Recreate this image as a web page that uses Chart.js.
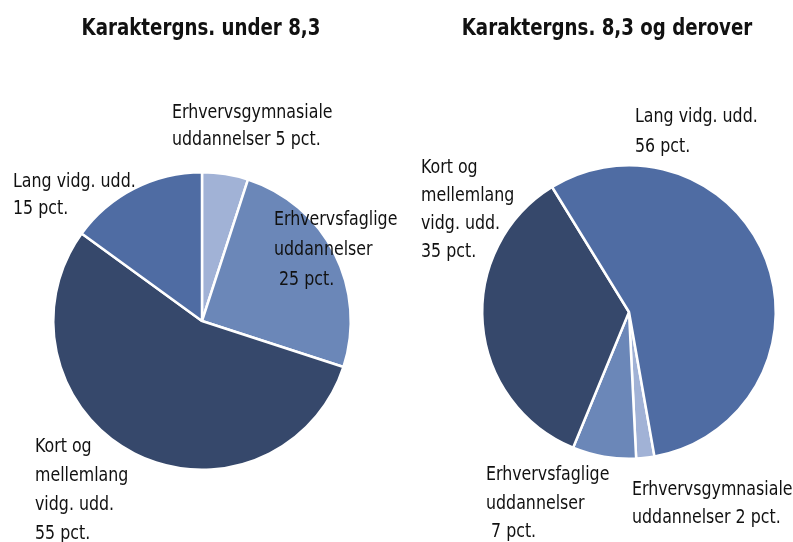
<!DOCTYPE html>
<html>
<head>
<meta charset="utf-8">
<script src="https://cdn.jsdelivr.net/npm/chart.js@4.4.0/dist/chart.umd.min.js"></script>
<style>
  html, body { margin: 0; padding: 0; background: #fff; }
  #wrap { position: relative; width: 793px; height: 542px; }
  #wrap canvas { position: absolute; left: 0; top: 0; }
</style>
</head>
<body>
<div id="wrap">
  <canvas id="pieUnder" width="793" height="542"></canvas>
  <canvas id="pieOver" width="793" height="542"></canvas>
</div>
<script>
// data
const categories = ['Erhvervsgymnasiale uddannelser', 'Erhvervsfaglige uddannelser', 'Kort og mellemlang vidg. udd.', 'Lang vidg. udd.'];
const underValues = [5, 25, 55, 15];
const overValues = [2, 7, 35, 56];
const sliceColors = ['#a1b2d6', '#6b87b8', '#36486b', '#4f6ca3'];

const FONT = "'DejaVu Sans Condensed', 'DejaVu Sans', sans-serif";
const SQUEEZE = 0.88; // narrow the glyphs a bit, the original font is condensed

// label text + where it sits (page px, left aligned, first baseline)
const underLabels = [
    { lines: ['Erhvervsgymnasiale', 'uddannelser 5 pct.'], x: 172, y: 118, lh: 27 },
    { lines: ['Erhvervsfaglige', 'uddannelser', ' 25 pct.'], x: 274, y: 225, lh: 30 },
    { lines: ['Kort og', 'mellemlang', 'vidg. udd.', '55 pct.'], x: 35, y: 452, lh: 29 },
    { lines: ['Lang vidg. udd.', '15 pct.'], x: 13, y: 187, lh: 27 }
];
const overLabels = [
    { lines: ['Erhvervsgymnasiale', 'uddannelser 2 pct.'], x: 632, y: 495, lh: 28 },
    { lines: ['Erhvervsfaglige', 'uddannelser', ' 7 pct.'], x: 486, y: 480, lh: 28.5 },
    { lines: ['Kort og', 'mellemlang', 'vidg. udd.', '35 pct.'], x: 421, y: 173, lh: 28 },
    { lines: ['Lang vidg. udd.', '56 pct.'], x: 635, y: 122, lh: 30 }
];

function squeezedText(ctx, t, x, y) {
    ctx.save();
    ctx.translate(x, y);
    ctx.scale(SQUEEZE, 1);
    ctx.fillText(t, 0, 0);
    ctx.restore();
}

// texts drawn on the canvas
const textPlugin = {
    id: 'texts',
    afterDraw(chart, args, opts) {
        const ctx = chart.ctx;
        ctx.save();
        ctx.fillStyle = '#111';
        ctx.textBaseline = 'alphabetic';
        ctx.textAlign = 'center';
        ctx.font = 'bold 23px ' + FONT;
        squeezedText(ctx, opts.title, opts.titleX, 35);
        ctx.textAlign = 'left';
        ctx.font = '20px ' + FONT;
        opts.labels.forEach(l => {
            l.lines.forEach((t, i) => squeezedText(ctx, t, l.x, l.y + i * l.lh));
        });
        ctx.restore();
    }
};

function makePie(id, values, rotation, padding, title, titleX, labels) {
    return new Chart(document.getElementById(id), {
        type: 'pie',
        data: {
            labels: categories,
            datasets: [{
                data: values,
                backgroundColor: sliceColors,
                borderColor: '#ffffff',
                borderWidth: 2.5
            }]
        },
        options: {
            responsive: false,
            animation: false,
            events: [],
            rotation: rotation,
            layout: { padding: padding },
            plugins: {
                legend: { display: false },
                tooltip: { enabled: false },
                texts: { title: title, titleX: titleX, labels: labels }
            }
        },
        plugins: [textPlugin]
    });
}

makePie('pieUnder', underValues, 0, { left: 52, right: 441, top: 171, bottom: 71 },
    'Karaktergns. under 8,3', 201, underLabels);
makePie('pieOver', overValues, 170, { left: 481, right: 16, top: 164, bottom: 82 },
    'Karaktergns. 8,3 og derover', 607, overLabels);
</script>
</body>
</html>
